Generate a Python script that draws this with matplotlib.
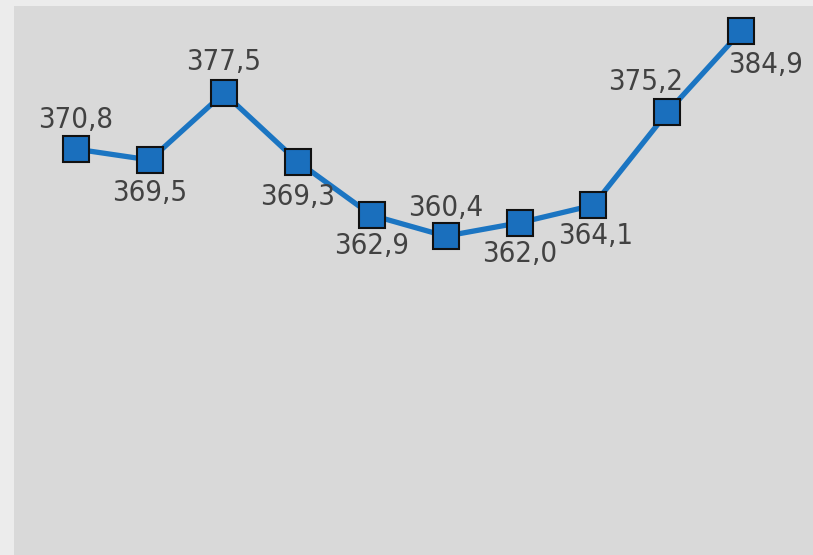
import matplotlib
matplotlib.use("Agg")
import matplotlib.pyplot as plt
from matplotlib import font_manager
from matplotlib.font_manager import FontProperties

periods = list(range(10))
values = [370.8, 369.5, 377.5, 369.3, 362.9, 360.4, 362.0, 364.1, 375.2, 384.9]
labels = ["370,8", "369,5", "377,5", "369,3", "362,9", "360,4", "362,0", "364,1", "375,2", "384,9"]
# label offsets in pixels (dx, dy) relative to each marker
offsets = [(0, 29), (0, -33), (0, 31), (0, -35), (0, -31), (0, 28), (0, -31), (2, -31), (-22, 30), (24, -34)]

# prefer a narrow sans face for the value labels
font_path = None
files = font_manager.findSystemFonts()
for key in ["LiberationSansNarrow-Regular", "DejaVuSansCondensed.ttf", "Condensed-Regular", "Narrow"]:
    hits = sorted(f for f in files if key in f.split("/")[-1] and "Bold" not in f and "Italic" not in f and "Oblique" not in f)
    if hits:
        font_path = hits[0]
        break
if font_path:
    lab_font = FontProperties(fname=font_path, size=21)
else:
    lab_font = FontProperties(family="DejaVu Sans", stretch="condensed", size=21)

fig = plt.figure(figsize=(8.13, 5.55), dpi=100, facecolor="#ececec")
ax = fig.add_axes([14 / 813, 0, 1 - 14 / 813, 1 - 6 / 555])
ax.set_facecolor("#d9d9d9")
for s in ax.spines.values():
    s.set_visible(False)
ax.set_xticks([])
ax.set_yticks([])

ax.plot(periods, values, color="#1b75c2", lw=3.8, zorder=2,
        marker="s", markersize=18.8, markerfacecolor="#1a6fbd",
        markeredgecolor="#111111", markeredgewidth=1.5)

for x, y, t, (dx, dy) in zip(periods, values, labels, offsets):
    ax.annotate(t, (x, y), xytext=(dx * 0.72, dy * 0.72), textcoords="offset points",
                ha="center", va="center", color="#424242",
                fontproperties=lab_font, zorder=3)

ax.set_xlim(-0.839, 9.97)
ax.set_ylim(322.3, 387.9)

fig.savefig("out.png", dpi=100, facecolor=fig.get_facecolor())
